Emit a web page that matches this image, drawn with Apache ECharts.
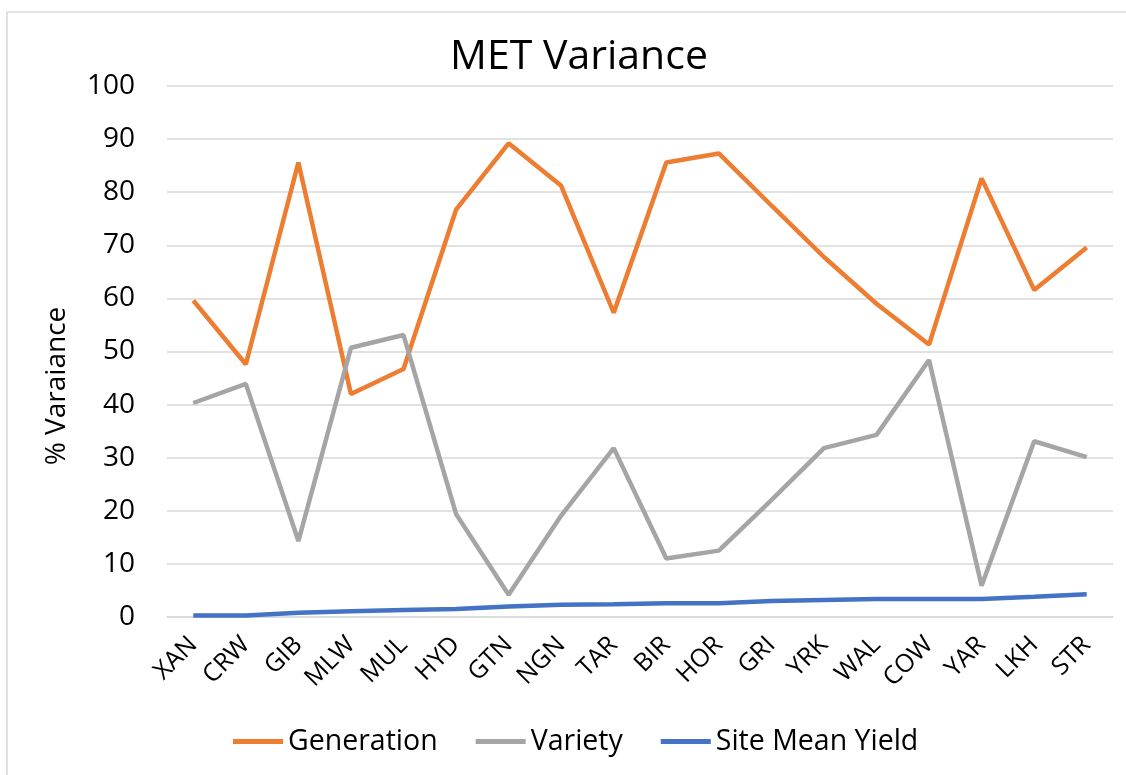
<!DOCTYPE html>
<html>
<head>
<meta charset="utf-8">
<script src="https://cdn.jsdelivr.net/npm/echarts@6/dist/echarts.min.js"></script>
<style>
html,body{margin:0;padding:0;background:#fff;}
#chart{width:1126px;height:775px;}
</style>
</head>
<body>
<div id="chart"></div>
<script>
const categories = ['XAN','CRW','GIB','MLW','MUL','HYD','GTN','NGN','TAR','BIR','HOR','GRI','YRK','WAL','COW','YAR','LKH','STR'];
const generation = [59.6,47.6,85.6,42.0,46.7,76.7,89.2,81.2,57.3,85.6,87.3,77.5,67.8,59.0,51.3,82.6,61.6,69.6];
const variety = [40.3,43.9,14.3,50.7,53.1,19.4,4.2,19.1,31.8,11.0,12.5,22.0,31.8,34.3,48.4,5.9,33.1,30.1];
const siteMeanYield = [0.3,0.3,0.8,1.1,1.3,1.5,2.0,2.3,2.4,2.6,2.6,3.0,3.2,3.4,3.4,3.4,3.8,4.3];
const yTicks = [0,10,20,30,40,50,60,70,80,90,100];

const FONT = '"Open Sans", "Noto Sans", sans-serif';
const chart = echarts.init(document.getElementById('chart'), null, {renderer:'canvas'});
chart.setOption({
  backgroundColor:'#fff',
  animation:false,
  title:{
    text:'MET Variance', left:574, top:32, textAlign:'center',
    textStyle:{fontFamily:FONT, fontSize:41, fontWeight:'normal', color:'#000'}
  },
  graphic:[
    {type:'rect', shape:{x:7,y:12,width:1300,height:900}, style:{fill:'none', stroke:'#d9d9d9', lineWidth:1.5}, silent:true},
    {type:'text', x:57, y:386, rotation:Math.PI/2,
     style:{text:'% Varaiance', fontFamily:FONT, fontSize:28, fill:'#000', align:'center', verticalAlign:'middle'}}
  ],
  legend:{
    bottom:14, left:228,
    itemWidth:50, itemHeight:5, itemGap:38,
    icon:'rect',
    textStyle:{fontFamily:FONT, fontSize:28.5, color:'#000'},
    data:['Generation','Variety','Site Mean Yield']
  },
  grid:{left:167, right:13, top:86, bottom:158, containLabel:false},
  xAxis:{
    type:'category', data:categories, boundaryGap:true,
    axisLine:{show:true, lineStyle:{color:'#d9d9d9', width:1.5}},
    axisTick:{show:false},
    axisLabel:{rotate:45, margin:24, fontFamily:FONT, fontSize:25, color:'#000', interval:0}
  },
  yAxis:{
    type:'value', min:yTicks[0], max:yTicks[yTicks.length-1], interval:10,
    axisLine:{show:false}, axisTick:{show:false},
    splitLine:{lineStyle:{color:'#d9d9d9', width:1.5}},
    axisLabel:{margin:32, fontFamily:FONT, fontSize:28, color:'#000'}
  },
  series:[
    {name:'Generation', type:'line', data:generation, symbol:'none', lineStyle:{color:'#ED7D31', width:4.5}, itemStyle:{color:'#ED7D31'}},
    {name:'Variety', type:'line', data:variety, symbol:'none', lineStyle:{color:'#A5A5A5', width:4.5}, itemStyle:{color:'#A5A5A5'}},
    {name:'Site Mean Yield', type:'line', data:siteMeanYield, symbol:'none', lineStyle:{color:'#4472C4', width:4.5}, itemStyle:{color:'#4472C4'}}
  ]
});
</script>
</body>
</html>
